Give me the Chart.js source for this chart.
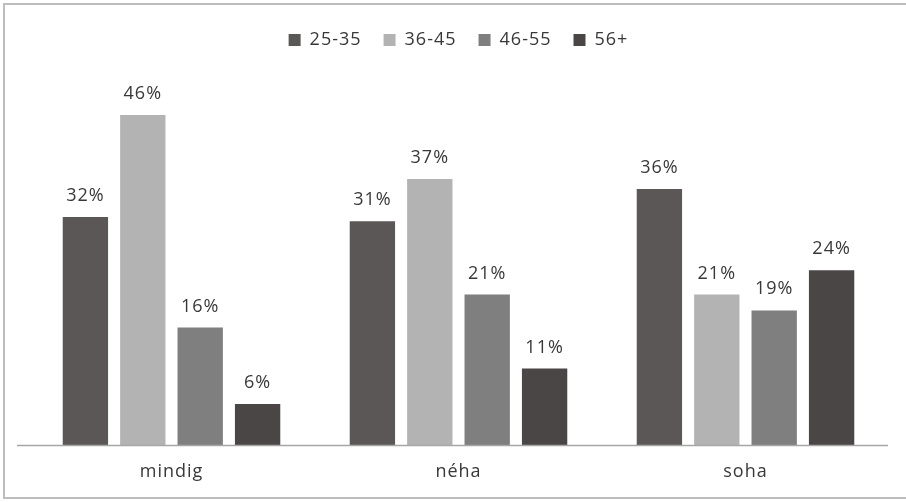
<!DOCTYPE html>
<html>
<head>
<meta charset="utf-8">
<script src="https://cdn.jsdelivr.net/npm/chart.js@4/dist/chart.umd.min.js"></script>
<style>
html,body{margin:0;padding:0;background:#fff;}
#wrap{position:relative;width:906px;height:502px;}
</style>
</head>
<body>
<div id="wrap"><canvas id="c" width="906" height="502"></canvas></div>
<script>
const categories = ['mindig', 'néha', 'soha'];
const seriesNames = ['25-35', '36-45', '46-55', '56+'];
const values25_35 = [31.8, 31.2, 35.7];
const values36_45 = [46.0, 37.1, 21.0];
const values46_55 = [16.4, 21.0, 18.8];
const values56plus = [5.75, 10.7, 24.4];
const labels25_35 = ['32%', '31%', '36%'];
const labels36_45 = ['46%', '37%', '21%'];
const labels46_55 = ['16%', '21%', '19%'];
const labels56plus = ['6%', '11%', '24%'];
const colors = ['#5b5757', '#b3b3b3', '#7f7f7f', '#4a4646'];

const seriesValues = [values25_35, values36_45, values46_55, values56plus];
const seriesLabels = [labels25_35, labels36_45, labels46_55, labels56plus];

const FONT = '"Open Sans", sans-serif';
const TEXT = '#383838';

const ctx0 = document.getElementById('c').getContext('2d');

const spacingPlugin = {
  id: 'spacing',
  beforeUpdate(chart) { chart.ctx.letterSpacing = '1px'; },
  beforeLayout(chart) { chart.ctx.letterSpacing = '1px'; },
  beforeDraw(chart) { chart.ctx.letterSpacing = '1px'; }
};

const framePlugin = {
  id: 'frame',
  beforeDraw(chart) {
    const ctx = chart.ctx;
    ctx.save();
    ctx.fillStyle = '#ffffff';
    ctx.fillRect(0, 0, chart.width, chart.height);
    ctx.strokeStyle = '#bdbdbd';
    ctx.lineWidth = 2;
    ctx.beginPath();
    ctx.moveTo(906, 4);
    ctx.lineTo(4, 4);
    ctx.lineTo(4, 498);
    ctx.lineTo(906, 498);
    ctx.stroke();
    ctx.restore();
  }
};

const axisLinePlugin = {
  id: 'axisLine',
  afterDatasetsDraw(chart) {
    const ctx = chart.ctx;
    const y = Math.round(chart.scales.y.getPixelForValue(0)) + 0.5;
    ctx.save();
    ctx.strokeStyle = '#a6a6a6';
    ctx.lineWidth = 1.5;
    ctx.beginPath();
    ctx.moveTo(17, y);
    ctx.lineTo(888, y);
    ctx.stroke();
    ctx.restore();
  }
};

const valueLabelPlugin = {
  id: 'valueLabels',
  afterDatasetsDraw(chart) {
    const ctx = chart.ctx;
    ctx.save();
    ctx.letterSpacing = '1px';
    ctx.font = '18px ' + FONT;
    ctx.fillStyle = TEXT;
    ctx.textAlign = 'center';
    ctx.textBaseline = 'alphabetic';
    chart.data.datasets.forEach((ds, di) => {
      const meta = chart.getDatasetMeta(di);
      meta.data.forEach((el, i) => {
        ctx.fillText(seriesLabels[di][i], el.x, el.y - 16);
      });
    });
    ctx.restore();
  }
};

new Chart(ctx0, {
  type: 'bar',
  data: {
    labels: categories,
    datasets: seriesNames.map((name, i) => ({
      label: name,
      data: seriesValues[i],
      backgroundColor: colors[i],
      borderWidth: 0,
      categoryPercentage: 0.8,
      barPercentage: 0.79
    }))
  },
  options: {
    responsive: false,
    animation: false,
    devicePixelRatio: 1,
    layout: { padding: { top: 9, left: 28, right: 17, bottom: 11 } },
    plugins: {
      legend: {
        position: 'top',
        labels: {
          boxWidth: 12,
          boxHeight: 12,
          padding: 22,
          color: TEXT,
          font: { family: FONT, size: 18 }
        }
      },
      tooltip: { enabled: false }
    },
    scales: {
      x: {
        grid: { display: false },
        border: { display: false },
        ticks: { color: TEXT, font: { family: FONT, size: 18 }, padding: 8 }
      },
      y: {
        display: false,
        min: 0,
        max: 53.8
      }
    }
  },
  plugins: [spacingPlugin, framePlugin, axisLinePlugin, valueLabelPlugin]
});
</script>
</body>
</html>
